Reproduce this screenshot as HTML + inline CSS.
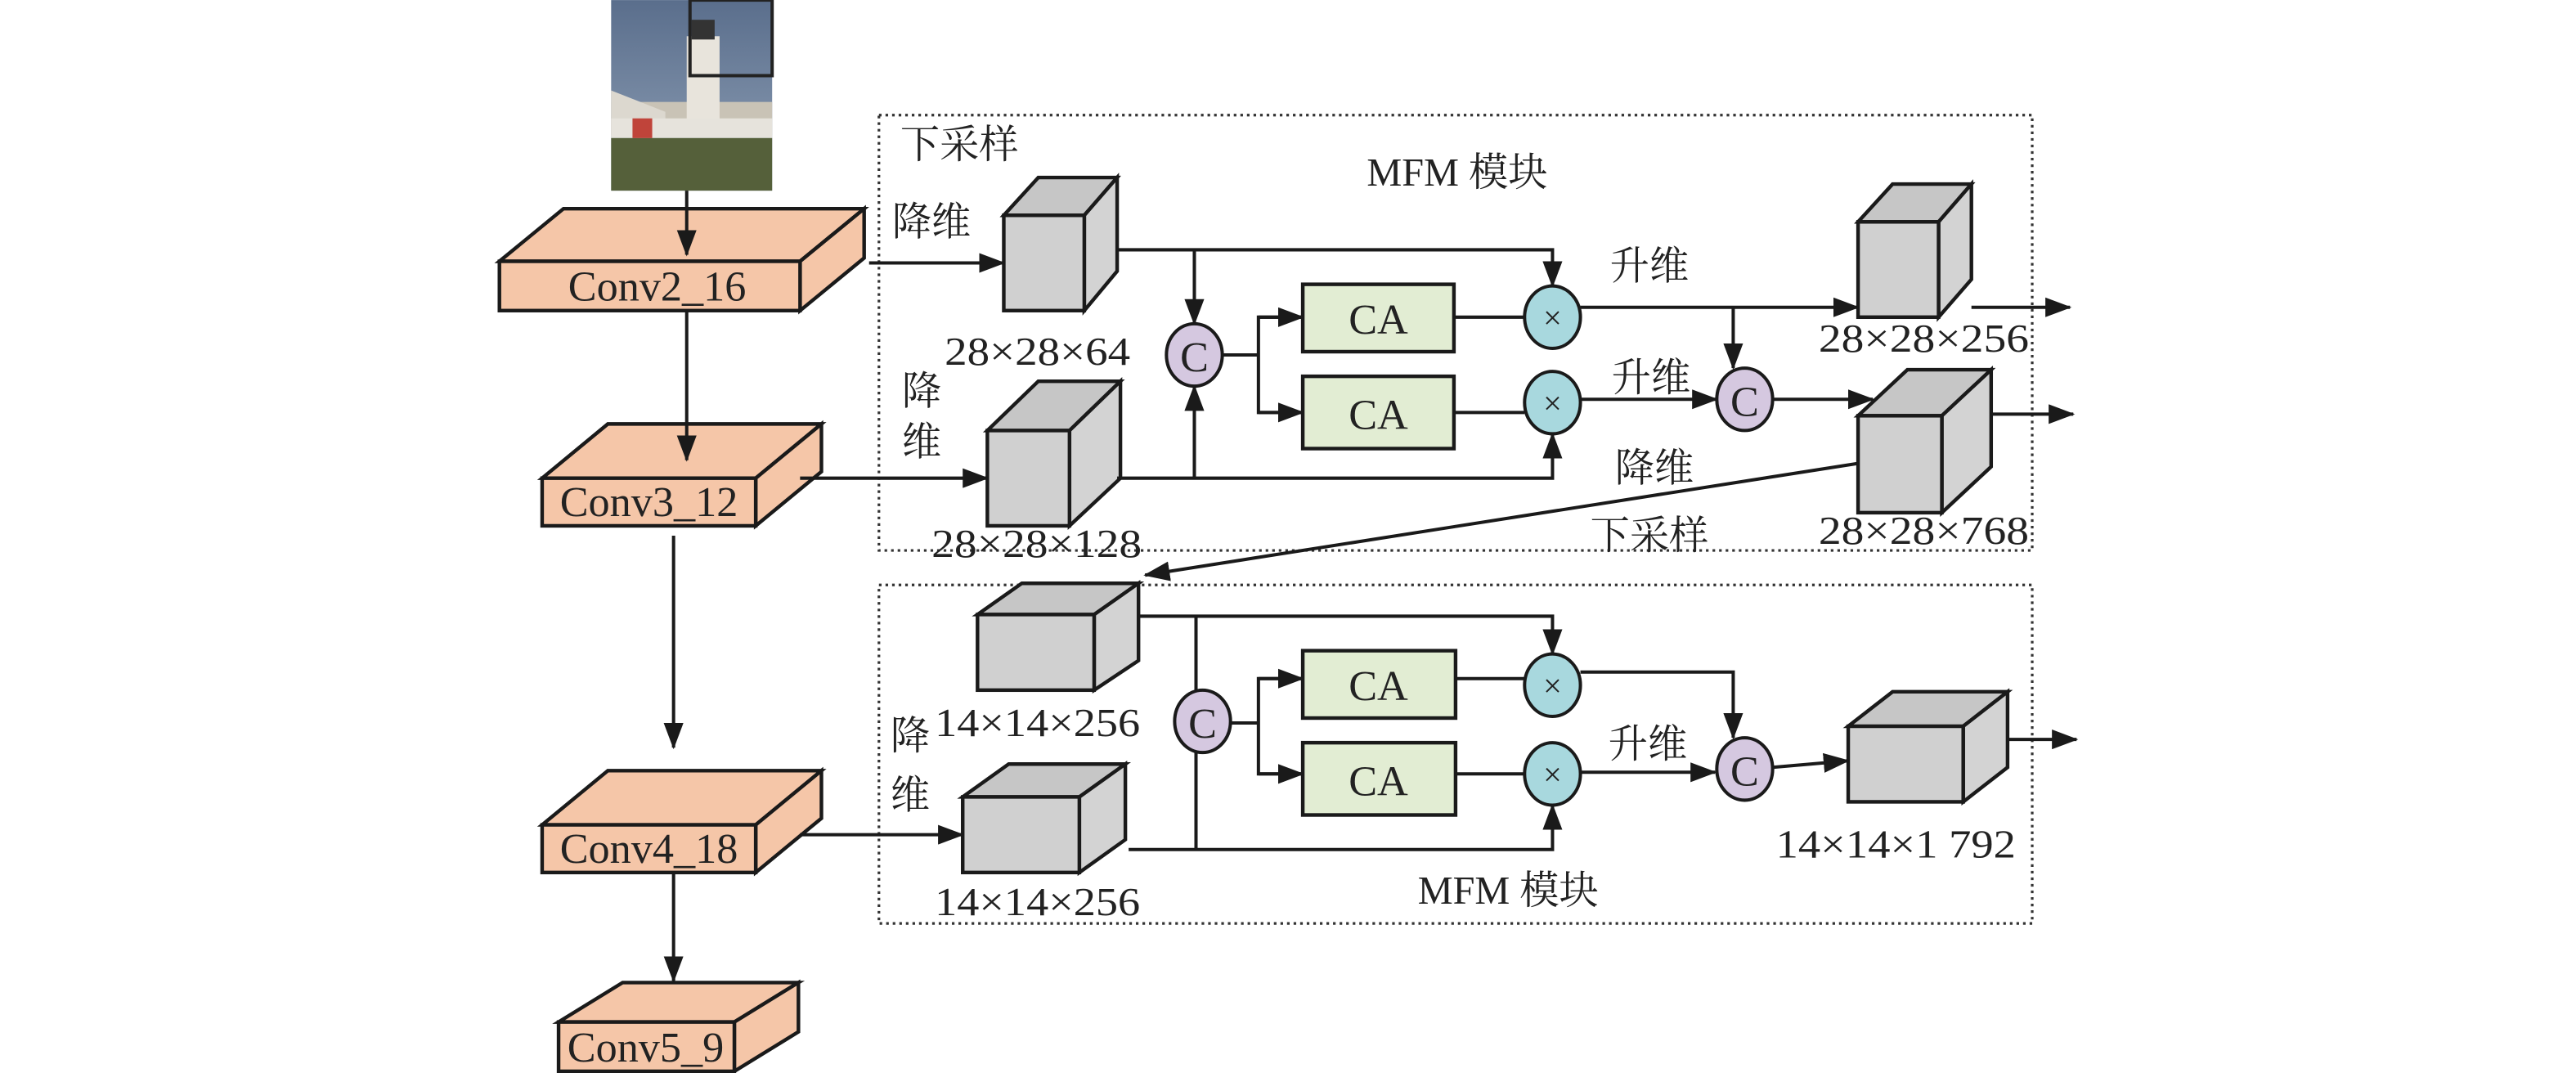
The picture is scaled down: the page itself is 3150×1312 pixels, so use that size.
<!DOCTYPE html>
<html><head><meta charset="utf-8"><style>
html,body{margin:0;padding:0;background:#fff;}
svg{display:block;}
text{font-family:"Liberation Serif","Noto Serif CJK SC",serif;fill:#222;}
</style></head><body>
<svg width="3150" height="1312" viewBox="0 0 1568 653" xmlns="http://www.w3.org/2000/svg">
<defs>
<marker id="a" markerUnits="userSpaceOnUse" markerWidth="16" markerHeight="12" refX="15" refY="6" orient="auto"><path d="M0,0 L16,6 L0,12 Z" fill="#1a1a1a"/></marker>
<linearGradient id="sky" x1="0" y1="0" x2="0" y2="1"><stop offset="0" stop-color="#5a6e8c"/><stop offset="1" stop-color="#8fa0b6"/></linearGradient>
</defs>
<!-- photo -->
<rect x="372" y="0" width="98" height="116" fill="url(#sky)"/>
<rect x="372" y="62" width="98" height="20" fill="#c9c3b6"/>
<polygon points="372,55 405,68 405,82 372,82" fill="#dcd8cf"/>
<rect x="418" y="22" width="20" height="55" fill="#e8e4dc"/>
<rect x="421" y="12" width="14" height="12" fill="#333"/>
<rect x="372" y="72" width="98" height="12" fill="#e6e3dc"/>
<rect x="372" y="84" width="98" height="32" fill="#55603a"/>
<rect x="385" y="72" width="12" height="12" fill="#c0443a"/>
<rect x="420" y="0" width="50" height="46" fill="none" stroke="#222" stroke-width="2"/>
<!-- conv boxes -->
<g stroke="#1a1a1a" stroke-width="2.2" fill="#f5c6a8" stroke-linejoin="miter">
<polygon points="304,159 343,127 526,127 487,159"/><polygon points="487,159 526,127 526,157 487,189"/><rect x="304" y="159" width="183" height="30"/>
<polygon points="330,291 370,258 500,258 460,291"/><polygon points="460,291 500,258 500,287 460,320"/><rect x="330" y="291" width="130" height="29"/>
<polygon points="330,502 370,469 500,469 460,502"/><polygon points="460,502 500,469 500,498 460,531"/><rect x="330" y="502" width="130" height="29"/>
<polygon points="340,622 379,598 486,598 447,622"/><polygon points="447,622 486,598 486,628 447,652"/><rect x="340" y="622" width="107" height="30"/>
</g>
<g stroke="#1a1a1a" stroke-width="2" fill="none">
<line x1="418" y1="116" x2="418" y2="155" marker-end="url(#a)"/>
<line x1="418" y1="189" x2="418" y2="280" marker-end="url(#a)"/>
<line x1="410" y1="326" x2="410" y2="455" marker-end="url(#a)"/>
<line x1="410" y1="532" x2="410" y2="597" marker-end="url(#a)"/>
</g>
<g font-size="26" text-anchor="middle">
<text x="400" y="183">Conv2_16</text>
<text x="395" y="314">Conv3_12</text>
<text x="395" y="525">Conv4_18</text>
<text x="393" y="646">Conv5_9</text>
</g>
<!-- dotted boxes -->
<g fill="none" stroke="#333" stroke-width="1.6" stroke-dasharray="1.6 2.4">
<rect x="535" y="70" width="702" height="265"/>
<rect x="535" y="356" width="702" height="206"/>
</g>
<!-- cubes -->
<g stroke="#1a1a1a" stroke-width="2.2">
<g><polygon points="611,131 632,108 680,108 660,131" fill="#c6c6c6"/><polygon points="660,131 680,108 680,165 660,189" fill="#d3d3d3"/><rect x="611" y="131" width="49" height="58" fill="#d0d0d0"/></g>
<g><polygon points="601,262 632,232 682,232 651,262" fill="#c6c6c6"/><polygon points="651,262 682,232 682,291 651,320" fill="#d3d3d3"/><rect x="601" y="262" width="50" height="58" fill="#d0d0d0"/></g>
<g><polygon points="1131,135 1152,112 1200,112 1180,135" fill="#c6c6c6"/><polygon points="1180,135 1200,112 1200,170 1180,193" fill="#d3d3d3"/><rect x="1131" y="135" width="49" height="58" fill="#d0d0d0"/></g>
<g><polygon points="1131,253 1161,225 1212,225 1182,253" fill="#c6c6c6"/><polygon points="1182,253 1212,225 1212,284 1182,312" fill="#d3d3d3"/><rect x="1131" y="253" width="51" height="59" fill="#d0d0d0"/></g>
<g><polygon points="595,374 622,355 693,355 666,374" fill="#c6c6c6"/><polygon points="666,374 693,355 693,402 666,420" fill="#d3d3d3"/><rect x="595" y="374" width="71" height="46" fill="#d0d0d0"/></g>
<g><polygon points="1125,442 1152,421 1222,421 1195,442" fill="#c6c6c6"/><polygon points="1195,442 1222,421 1222,467 1195,488" fill="#d3d3d3"/><rect x="1125" y="442" width="70" height="46" fill="#d0d0d0"/></g>
<g><polygon points="586,485 614,465 685,465 657,485" fill="#c6c6c6"/><polygon points="657,485 685,465 685,511 657,531" fill="#d3d3d3"/><rect x="586" y="485" width="71" height="46" fill="#d0d0d0"/></g>
</g>
<!-- connectors -->
<g stroke="#1a1a1a" stroke-width="2" fill="none">
<line x1="529" y1="160" x2="611" y2="160" marker-end="url(#a)"/>
<line x1="487" y1="291" x2="601" y2="291" marker-end="url(#a)"/>
<line x1="487" y1="508" x2="586" y2="508" marker-end="url(#a)"/>
<polyline points="680,152 945,152 945,174" marker-end="url(#a)"/>
<line x1="727" y1="152" x2="727" y2="197" marker-end="url(#a)"/>
<polyline points="680,291 945,291 945,264" marker-end="url(#a)"/>
<line x1="727" y1="291" x2="727" y2="235" marker-end="url(#a)"/>
<line x1="744" y1="216" x2="766" y2="216"/>
<polyline points="793,193 766,193 766,251 793,251"/>
<line x1="766" y1="193" x2="793" y2="193" marker-end="url(#a)"/>
<line x1="766" y1="251" x2="793" y2="251" marker-end="url(#a)"/>
<line x1="885" y1="193" x2="928" y2="193"/>
<line x1="885" y1="251" x2="928" y2="251"/>
<line x1="962" y1="187" x2="1131" y2="187" marker-end="url(#a)"/>
<line x1="1055" y1="187" x2="1055" y2="224" marker-end="url(#a)"/>
<line x1="962" y1="243" x2="1045" y2="243" marker-end="url(#a)"/>
<line x1="1079" y1="243" x2="1140" y2="243" marker-end="url(#a)"/>
<line x1="1200" y1="187" x2="1260" y2="187" marker-end="url(#a)"/>
<line x1="1212" y1="252" x2="1262" y2="252" marker-end="url(#a)"/>
<line x1="1131" y1="282" x2="697" y2="350" marker-end="url(#a)"/>
<polyline points="693,375 945,375 945,398" marker-end="url(#a)"/>
<line x1="728" y1="375" x2="728" y2="517"/>
<polyline points="687,517 945,517 945,490" marker-end="url(#a)"/>
<line x1="749" y1="440" x2="766" y2="440"/>
<polyline points="793,413 766,413 766,471 793,471"/>
<line x1="766" y1="413" x2="793" y2="413" marker-end="url(#a)"/>
<line x1="766" y1="471" x2="793" y2="471" marker-end="url(#a)"/>
<line x1="886" y1="413" x2="928" y2="413"/>
<line x1="886" y1="471" x2="928" y2="471"/>
<polyline points="962,409 1055,409 1055,449" marker-end="url(#a)"/>
<line x1="962" y1="470" x2="1044" y2="470" marker-end="url(#a)"/>
<line x1="1079" y1="467" x2="1125" y2="463" marker-end="url(#a)"/>
<line x1="1222" y1="450" x2="1264" y2="450" marker-end="url(#a)"/>
</g>
<!-- CA boxes -->
<g stroke="#1a1a1a" stroke-width="2.2" fill="#e2edd3">
<rect x="793" y="173" width="92" height="41"/>
<rect x="793" y="229" width="92" height="44"/>
<rect x="793" y="396" width="93" height="41"/>
<rect x="793" y="452" width="93" height="44"/>
</g>
<!-- circles -->
<g stroke="#1a1a1a" stroke-width="2">
<ellipse cx="727" cy="216" rx="17" ry="19" fill="#d5c8e0"/>
<ellipse cx="1062" cy="243" rx="17" ry="19" fill="#d5c8e0"/>
<ellipse cx="732" cy="439" rx="17" ry="19" fill="#d5c8e0"/>
<ellipse cx="1062" cy="468" rx="17" ry="19" fill="#d5c8e0"/>
<ellipse cx="945" cy="193" rx="17" ry="19" fill="#a8d8de"/>
<ellipse cx="945" cy="245" rx="17" ry="19" fill="#a8d8de"/>
<ellipse cx="945" cy="417" rx="17" ry="19" fill="#a8d8de"/>
<ellipse cx="945" cy="471" rx="17" ry="19" fill="#a8d8de"/>
</g>
<g font-size="26" text-anchor="middle">
<text x="727" y="226">C</text><text x="1062" y="253">C</text><text x="732" y="449">C</text><text x="1062" y="478">C</text>
</g>
<g font-size="20" text-anchor="middle">
<text x="945" y="200">×</text><text x="945" y="252">×</text><text x="945" y="424">×</text><text x="945" y="478">×</text>
</g>
<g font-size="26" text-anchor="middle">
<text x="839" y="203">CA</text><text x="839" y="261">CA</text><text x="839" y="426">CA</text><text x="839" y="484">CA</text>
</g>
<!-- labels -->
<g font-size="24">
<text x="548" y="96">下采样</text>
<text x="832" y="113">MFM 模块</text>
<text x="543" y="143">降维</text>
<text x="549" y="246">降</text>
<text x="549" y="277">维</text>
<text x="980" y="170">升维</text>
<text x="981" y="238">升维</text>
<text x="983" y="293">降维</text>
<text x="968" y="334">下采样</text>
<text x="542" y="456">降</text>
<text x="542" y="492">维</text>
<text x="979" y="461">升维</text>
<text x="863" y="550">MFM 模块</text>
<text x="575" y="222" textLength="113" lengthAdjust="spacingAndGlyphs">28×28×64</text>
<text x="567" y="339" textLength="128" lengthAdjust="spacingAndGlyphs">28×28×128</text>
<text x="1107" y="214" textLength="128" lengthAdjust="spacingAndGlyphs">28×28×256</text>
<text x="1107" y="331" textLength="128" lengthAdjust="spacingAndGlyphs">28×28×768</text>
<text x="569" y="448" textLength="125" lengthAdjust="spacingAndGlyphs">14×14×256</text>
<text x="569" y="557" textLength="125" lengthAdjust="spacingAndGlyphs">14×14×256</text>
<text x="1081" y="522" textLength="146" lengthAdjust="spacingAndGlyphs">14×14×1 792</text>
</g>
</svg>
</body></html>
